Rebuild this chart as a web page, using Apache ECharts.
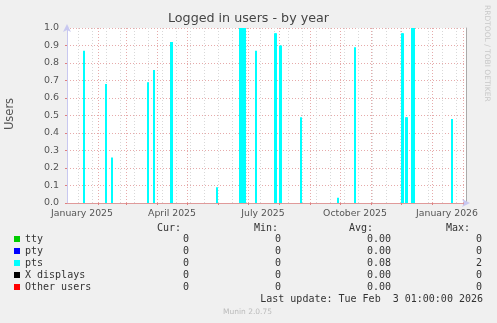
<!DOCTYPE html>
<html><head><meta charset="utf-8">
<script src="https://cdn.jsdelivr.net/npm/echarts@6/dist/echarts.min.js"></script>
<style>html,body{margin:0;padding:0;background:#f0f0f0}#c{width:497px;height:323px}</style>
</head><body><div id="c"></div>
<script>
// ---- data ----
const seriesNames = ['tty', 'pty', 'pts', 'X displays', 'Other users'];
const seriesColors = ['#00cc00', '#0000ff', '#00ffff', '#000000', '#ff0000'];
const ptsDates = ['2025-01-17','2025-02-08','2025-02-14','2025-03-22','2025-03-28','2025-04-14','2025-04-15',
  '2025-05-30','2025-06-22','2025-06-23','2025-06-24','2025-06-25','2025-06-26','2025-06-27','2025-07-08',
  '2025-07-27','2025-07-28','2025-08-01','2025-08-02','2025-08-22','2025-09-28','2025-10-15','2025-12-01',
  '2025-12-02','2025-12-05','2025-12-06','2025-12-11','2025-12-12','2025-12-13','2026-01-20'];
const ptsValues = [0.87,0.68,0.26,0.69,0.76,0.92,0.92,
  0.09,1,1,1,1,1,1,0.87,
  0.97,0.97,0.90,0.90,0.49,0.03,0.89,0.97,
  0.97,0.49,0.49,1,1,1,0.48];
const otherValues = [0, 0];
const rangeStart = '2025-01-01T00:00:00Z';
const rangeEnd = '2026-02-04T00:00:00Z';
const yTickLabels = ['0.0','0.1','0.2','0.3','0.4','0.5','0.6','0.7','0.8','0.9','1.0'];
const xLabelDates = ['2025-01-16','2025-04-16','2025-07-16','2025-10-16','2026-01-16'];
const xLabels = ['January 2025','April 2025','July 2025','October 2025','January 2026'];
const monthStarts = ['2025-01-01','2025-02-01','2025-03-01','2025-04-01','2025-05-01','2025-06-01','2025-07-01',
  '2025-08-01','2025-09-01','2025-10-01','2025-11-01','2025-12-01','2026-01-01','2026-02-01'];
const minorGridStart = '2024-12-29';
const curVals = ['0','0','0','0','0'];
const minVals = ['0','0','0','0','0'];
const avgVals = ['0.00','0.00','0.08','0.00','0.00'];
const maxVals = ['0','0','2','0','0'];
const lastUpdate = 'Last update: Tue Feb  3 01:00:00 2026';

// ---- build ----
const DAY = 86400000;
const xMin = Date.parse(rangeStart), xMax = Date.parse(rangeEnd);
const ptsData = ptsDates.map((d, i) => [Date.parse(d), ptsValues[i]]);
const labelTimes = xLabelDates.map(d => Date.parse(d));
const majorTimes = monthStarts.map(d => Date.parse(d)).filter(t => t > xMin);
const minorTimes = [];
for (let t = Date.parse(minorGridStart); t <= xMax; t += 14 * DAY) if (t > xMin) minorTimes.push(t);

const mono = 'DejaVu Sans Mono';
const sans = 'DejaVu Sans';
const gridRed = '#e6aaaa';
const minBarPx = 2;

const series = seriesNames.map((name, i) => {
  if (name === 'pts') {
    return {
      name, type: 'custom', data: ptsData, encode: { x: 0, y: 1 }, clip: true, z: 3, silent: true,
      itemStyle: { color: seriesColors[i] },
      renderItem: (params, api) => {
        const t = api.value(0), v = api.value(1);
        if (!v) return null;
        const p0 = api.coord([t, v]);
        const p1 = api.coord([t + DAY, 0]);
        const w = Math.max(p1[0] - p0[0], minBarPx);
        return { type: 'rect', shape: { x: p0[0], y: p0[1], width: w, height: p1[1] - p0[1] },
                 style: { fill: seriesColors[i] } };
      }
    };
  }
  return {
    name, type: 'line', data: [[xMin, otherValues[0]], [xMax, otherValues[1]]], showSymbol: false, symbol: 'none',
    color: seriesColors[i], lineStyle: { opacity: 0 }, z: 1, silent: true
  };
});

const graphic = [];
graphic.push({ type: 'text', x: 248.5, y: 19, style: { text: 'Logged in users - by year', font: '12.7px ' + sans, fill: '#444', align: 'center', verticalAlign: 'middle' } });
graphic.push({ type: 'text', x: 10, y: 114, rotation: Math.PI / 2, style: { text: 'Users', font: '11.5px ' + sans, fill: '#555', align: 'center', verticalAlign: 'middle' } });
graphic.push({ type: 'text', x: 487, y: 5, rotation: -Math.PI / 2, style: { text: 'RRDTOOL / TOBI OETIKER', font: '7.5px ' + sans, fill: '#c8c8c8', align: 'left', verticalAlign: 'middle' } });
const headers = ['Cur:', 'Min:', 'Avg:', 'Max:'];
const headerX = [181, 278, 373, 470];
const colX = [189, 281, 391, 482];
const cols = [curVals, minVals, avgVals, maxVals];
headers.forEach((h, i) => graphic.push({ type: 'text', x: headerX[i], y: 228, style: { text: h, font: '10px ' + mono, fill: '#333', align: 'right', verticalAlign: 'middle' } }));
cols.forEach((col, c) => col.forEach((v, r) => graphic.push({ type: 'text', x: colX[c], y: 239.3 + r * 12, style: { text: v, font: '10px ' + mono, fill: '#333', align: 'right', verticalAlign: 'middle' } })));
graphic.push({ type: 'text', x: 483, y: 299.3, style: { text: lastUpdate, font: '10px ' + mono, fill: '#333', align: 'right', verticalAlign: 'middle' } });
graphic.push({ type: 'text', x: 247.5, y: 311.7, style: { text: 'Munin 2.0.75', font: '7.5px ' + sans, fill: '#bbbbbb', align: 'center', verticalAlign: 'middle' } });

const option = {
  animation: false,
  backgroundColor: '#f0f0f0',
  grid: { left: 67, right: 31, top: 28, bottom: 120, show: true, backgroundColor: '#ffffff', borderWidth: 0, containLabel: false },
  legend: {
    orient: 'vertical', left: 14, top: 233, padding: 0, itemGap: 0, itemWidth: 6, itemHeight: 6,
    icon: 'rect', selectedMode: false,
    textStyle: { fontFamily: mono, fontSize: 10, color: '#333', lineHeight: 12 },
    data: seriesNames.map((n, i) => ({ name: n, icon: 'rect', itemStyle: { color: seriesColors[i], opacity: 1 } }))
  },
  xAxis: [
    {
      type: 'value', min: xMin, max: xMax, position: 'bottom',
      axisLine: { show: true, lineStyle: { color: '#c8c8f0', width: 1 }, symbol: ['none', 'arrow'], symbolSize: [6, 8], symbolOffset: [0, 4] },
      axisTick: { show: true, length: 2, customValues: majorTimes, lineStyle: { color: '#e08080' } },
      splitLine: { show: true, lineStyle: { color: gridRed, type: [1, 2], width: 1 } },
      axisLabel: {
        customValues: labelTimes, margin: 6, color: '#555', fontFamily: sans, fontSize: 9.3,
        formatter: v => { const i = labelTimes.indexOf(v); return i >= 0 ? xLabels[i] : ''; }
      }
    },
    {
      type: 'value', min: xMin, max: xMax, position: 'bottom',
      axisLine: { show: true, lineStyle: { color: '#e09a9a', width: 1 } },
      axisTick: { show: false, customValues: minorTimes },
      splitLine: { show: true, lineStyle: { color: '#d8d8d8', type: [1, 2], width: 1 } },
      axisLabel: { show: false }
    }
  ],
  yAxis: [
    {
      type: 'value', min: 0, max: 1, interval: 0.1, position: 'left',
      axisLine: { show: true, lineStyle: { color: '#c8c8f0' }, symbol: ['none', 'arrow'], symbolSize: [6, 8], symbolOffset: [0, 4] },
      axisTick: { show: true, length: 2, lineStyle: { color: '#e08080' } },
      splitLine: { show: true, lineStyle: { color: gridRed, type: [1, 2], width: 1 } },
      axisLabel: { margin: 8, color: '#555', fontFamily: sans, fontSize: 9.5, formatter: v => yTickLabels[Math.round(v * 10)] }
    },
    {
      type: 'value', min: 0, max: 1, position: 'right',
      axisLine: { show: true, lineStyle: { color: '#aaa' } },
      axisTick: { show: false }, splitLine: { show: false }, axisLabel: { show: false }
    }
  ],
  series,
  graphic
};
const chart = echarts.init(document.getElementById('c'), null, { renderer: 'canvas' });
chart.setOption(option);
</script>
</body></html>
